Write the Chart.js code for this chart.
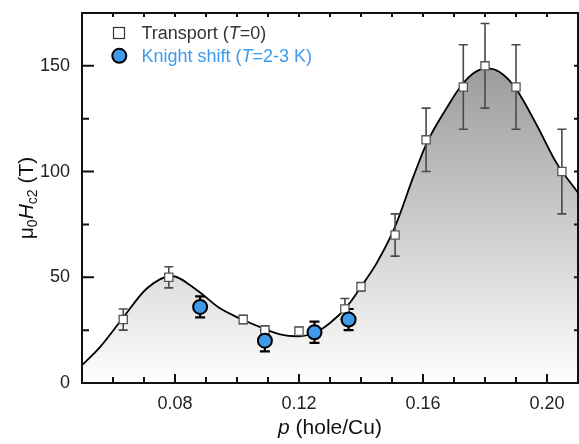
<!DOCTYPE html>
<html lang="en">
<head>
    <meta charset="UTF-8">
    <title>Hc2 vs doping</title>
    <script src="https://cdn.jsdelivr.net/npm/chart.js"></script>
    <style>
        body { margin: 0; background: #fff; }
        #grafico { display: block; }
    </style>
</head>
<body>
    <canvas id="grafico" width="579" height="444"></canvas>

    <script>
        // valores
        const transportP = [0.0633, 0.078, 0.102, 0.109, 0.120, 0.1348, 0.140, 0.151, 0.161, 0.173, 0.180, 0.190, 0.2048];
        const transportH = [30, 50, 30, 25, 24.5, 35, 45.5, 70, 115, 140, 150, 140, 100];
        const transportErr = [5, 5, 2, 2, 2, 5, 2, 10, 15, 20, 20, 20, 20];

        const knightP = [0.0881, 0.109, 0.125, 0.136];
        const knightH = [36, 20, 24, 30];
        const knightErr = [5, 5, 5, 5];

        const curveP = [0.050, 0.0558, 0.0633, 0.0709, 0.0789, 0.087, 0.0945, 0.101, 0.1085, 0.1139, 0.1193, 0.1246, 0.130, 0.1354, 0.1407, 0.145, 0.151, 0.1569, 0.1612, 0.1676, 0.173, 0.1784, 0.1816, 0.1859, 0.1902, 0.1967, 0.2031, 0.210];
        const curveH = [8.4, 17, 31, 44.7, 50.6, 44, 35.3, 30.5, 25.8, 23, 22.1, 23.4, 28.4, 36, 47, 56.6, 74, 97.6, 113.5, 130, 141.9, 148.2, 148.7, 145.8, 138.7, 122, 104, 90];

        const xTicks = [0.08, 0.12, 0.16, 0.20];
        const xMinor = [0.05, 0.06, 0.07, 0.08, 0.09, 0.10, 0.11, 0.12, 0.13, 0.14, 0.15, 0.16, 0.17, 0.18, 0.19, 0.20, 0.21];
        const yTicks = [0, 50, 100, 150];
        const yMinor = [0, 25, 50, 75, 100, 125, 150, 175];

        const azul = '#3d9be9';
        const fonte = '"Liberation Sans", Arial, sans-serif';

        function pontos(xs, ys) {
            return xs.map((x, i) => ({ x: x, y: ys[i] }));
        }

        // barras de erro, desenhadas logo depois da curva
        function barras(ctx, sx, sy, xs, ys, errs, cor, largura, cap) {
            ctx.save();
            ctx.strokeStyle = cor;
            ctx.lineWidth = largura;
            for (let i = 0; i < xs.length; i++) {
                const px = sx.getPixelForValue(xs[i]);
                const top = sy.getPixelForValue(ys[i] + errs[i]);
                const bot = sy.getPixelForValue(ys[i] - errs[i]);
                ctx.beginPath();
                ctx.moveTo(px, top); ctx.lineTo(px, bot);
                ctx.moveTo(px - cap, top); ctx.lineTo(px + cap, top);
                ctx.moveTo(px - cap, bot); ctx.lineTo(px + cap, bot);
                ctx.stroke();
            }
            ctx.restore();
        }

        const pluginErros = {
            id: 'erros',
            afterDatasetDraw(chart, args) {
                if (args.index !== 0) return;
                const ctx = chart.ctx;
                const sx = chart.scales.x, sy = chart.scales.y;
                barras(ctx, sx, sy, transportP, transportH, transportErr, '#4a4a4a', 1.6, 4.5);
                barras(ctx, sx, sy, knightP, knightH, knightErr, '#000', 2.2, 5);
            }
        };

        const pluginMoldura = {
            id: 'moldura',
            afterDraw(chart) {
                const ctx = chart.ctx;
                const a = chart.chartArea;
                const sx = chart.scales.x, sy = chart.scales.y;
                ctx.save();
                ctx.strokeStyle = '#111';
                ctx.lineWidth = 2;
                ctx.strokeRect(a.left, a.top, a.right - a.left, a.bottom - a.top);

                // ticks para dentro
                ctx.beginPath();
                xMinor.forEach(v => {
                    const px = sx.getPixelForValue(v);
                    const len = xTicks.some(t => Math.abs(t - v) < 1e-6) ? 9 : 6;
                    ctx.moveTo(px, a.bottom); ctx.lineTo(px, a.bottom - len);
                    ctx.moveTo(px, a.top); ctx.lineTo(px, a.top + 4);
                });
                yMinor.forEach(v => {
                    const py = sy.getPixelForValue(v);
                    const len = yTicks.includes(v) ? 12 : 7;
                    ctx.moveTo(a.left, py); ctx.lineTo(a.left + len, py);
                    ctx.moveTo(a.right, py); ctx.lineTo(a.right - 4, py);
                });
                ctx.stroke();

                // titulo do eixo x
                ctx.fillStyle = '#111';
                ctx.textBaseline = 'alphabetic';
                const cx = (a.left + a.right) / 2;
                ctx.font = 'italic 21px ' + fonte;
                const wP = ctx.measureText('p').width;
                ctx.font = '21px ' + fonte;
                const wR = ctx.measureText(' (hole/Cu)').width;
                let x0 = cx - (wP + wR) / 2;
                ctx.font = 'italic 21px ' + fonte;
                ctx.fillText('p', x0, 434);
                ctx.font = '21px ' + fonte;
                ctx.fillText(' (hole/Cu)', x0 + wP, 434);

                // titulo do eixo y (rotacionado)
                const partes = [
                    { t: 'μ', f: '21px ', dy: 0 },
                    { t: '0', f: '14px ', dy: 4 },
                    { t: 'H', f: 'italic 21px ', dy: 0 },
                    { t: 'c2', f: '14px ', dy: 4 },
                    { t: ' (T)', f: '21px ', dy: 0 }
                ];
                let total = 0;
                partes.forEach(p => { ctx.font = p.f + fonte; p.w = ctx.measureText(p.t).width; total += p.w; });
                ctx.translate(33, (a.top + a.bottom) / 2);
                ctx.rotate(-Math.PI / 2);
                let pos = -total / 2;
                partes.forEach(p => {
                    ctx.font = p.f + fonte;
                    ctx.fillText(p.t, pos, p.dy);
                    pos += p.w;
                });
                ctx.restore();

                // legenda
                ctx.save();
                ctx.fillStyle = '#fff';
                ctx.strokeStyle = '#333';
                ctx.lineWidth = 1.2;
                ctx.fillRect(113.5, 27.5, 11, 11);
                ctx.strokeRect(113.5, 27.5, 11, 11);
                ctx.beginPath();
                ctx.arc(119.3, 55.8, 7, 0, Math.PI * 2);
                ctx.fillStyle = azul;
                ctx.fill();
                ctx.lineWidth = 2;
                ctx.strokeStyle = '#000';
                ctx.stroke();

                const linha = (y, cor, textos) => {
                    let x = 141.5;
                    ctx.fillStyle = cor;
                    textos.forEach(([t, it]) => {
                        ctx.font = (it ? 'italic ' : '') + '18px ' + fonte;
                        ctx.fillText(t, x, y);
                        x += ctx.measureText(t).width;
                    });
                };
                linha(39.3, '#333', [['Transport (', 0], ['T', 1], ['=0)', 0]]);
                linha(62.3, azul, [['Knight shift (', 0], ['T', 1], ['=2-3 K)', 0]]);
                ctx.restore();
            }
        };

        function semPadding(s) {
            s.paddingTop = 0; s.paddingBottom = 0;
            s.paddingLeft = 0; s.paddingRight = 0;
        }

        const ctx = document.getElementById('grafico');
        new Chart(ctx, {
            type: 'line',
            data: {
                datasets: [
                    {
                        label: 'curva',
                        data: pontos(curveP, curveH),
                        borderColor: '#000',
                        borderWidth: 1.8,
                        pointRadius: 0,
                        cubicInterpolationMode: 'monotone',
                        fill: 'origin',
                        backgroundColor: function (c) {
                            const area = c.chart.chartArea;
                            if (!area) return 'rgba(0,0,0,0)';
                            const g = c.chart.ctx.createLinearGradient(0, area.bottom, 0, area.top);
                            g.addColorStop(0, '#ffffff');
                            g.addColorStop(1, '#8b8b8b');
                            return g;
                        },
                        order: 3
                    },
                    {
                        label: 'Transport (T=0)',
                        data: pontos(transportP, transportH),
                        showLine: false,
                        pointStyle: 'rect',
                        pointRadius: 5.8,
                        pointBackgroundColor: '#fff',
                        pointBorderColor: '#555',
                        pointBorderWidth: 1.3,
                        order: 2
                    },
                    {
                        label: 'Knight shift (T=2-3 K)',
                        data: pontos(knightP, knightH),
                        showLine: false,
                        pointStyle: 'circle',
                        pointRadius: 7,
                        pointBackgroundColor: azul,
                        pointBorderColor: '#000',
                        pointBorderWidth: 2,
                        order: 1
                    }
                ]
            },
            options: {
                responsive: false,
                animation: false,
                layout: { autoPadding: false, padding: { top: 13, right: 1, left: 0, bottom: 0 } },
                plugins: {
                    legend: { display: false },
                    tooltip: { enabled: false }
                },
                scales: {
                    x: {
                        type: 'linear',
                        min: 0.05,
                        max: 0.21,
                        afterBuildTicks: s => { s.ticks = xTicks.map(v => ({ value: v })); },
                        afterFit: s => { s.height = 61; semPadding(s); },
                        grid: { display: false, drawTicks: false },
                        border: { display: false },
                        ticks: {
                            padding: 10,
                            color: '#222',
                            font: { family: fonte, size: 18 },
                            callback: v => v.toFixed(2)
                        }
                    },
                    y: {
                        min: 0,
                        max: 175,
                        afterBuildTicks: s => { s.ticks = yTicks.map(v => ({ value: v })); },
                        afterFit: s => { s.width = 82; semPadding(s); },
                        grid: { display: false, drawTicks: false },
                        border: { display: false },
                        ticks: {
                            padding: 12,
                            color: '#222',
                            font: { family: fonte, size: 18 }
                        }
                    }
                }
            },
            plugins: [pluginErros, pluginMoldura]
        });
    </script>
</body>
</html>
